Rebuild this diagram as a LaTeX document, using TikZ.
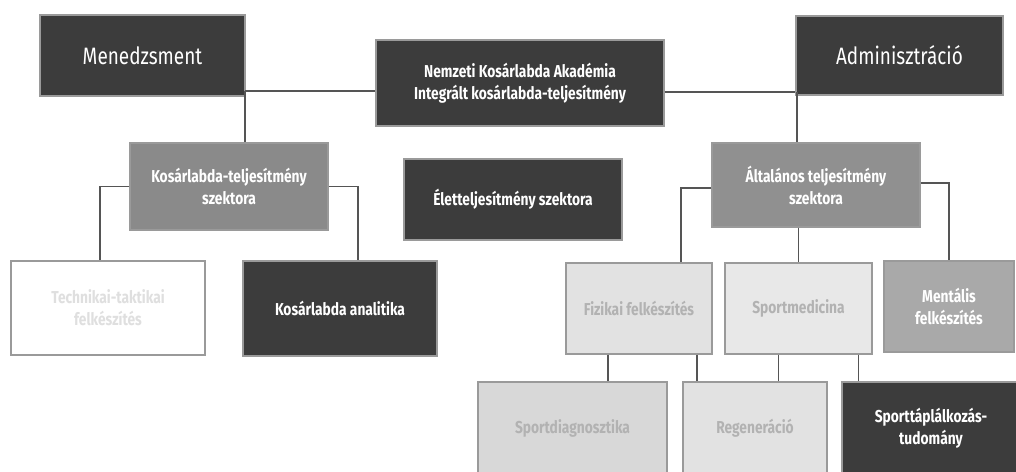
\documentclass[tikz,border=0pt]{standalone}
\usepackage{fontspec}
\setmainfont[FakeStretch=0.8]{Fira Sans}
\definecolor{sotet}{HTML}{3C3C3C}
\definecolor{kozep}{HTML}{8A8A8A}
\definecolor{halvany}{HTML}{A9A9A9}
\definecolor{vilagos}{HTML}{E2E2E2}
\definecolor{keret}{HTML}{9A9A9A}
\definecolor{vonal}{HTML}{555555}
\tikzset{
  doboz/.style={draw=keret, line width=0.6pt, inner sep=2pt, align=center,
    font=\fontsize{9.8}{12.5}\selectfont\bfseries},
  sotetdoboz/.style={doboz, fill=sotet, text=white},
  kozepdoboz/.style={doboz, fill=kozep, text=white},
  vilagosdoboz/.style={doboz, fill=vilagos, text=gray!60},
  kapcsolat/.style={draw=vonal, line width=0.8pt}
}
\begin{document}
\begin{tikzpicture}[x=0.02cm,y=-0.02cm]
\def\u{0.02cm}
\useasboundingbox (0,0) rectangle (1016,471);
% felso sor
\node[sotetdoboz, minimum width=205*\u, minimum height=81*\u, font=\fontsize{13.5}{15}\selectfont] (men) at (142.5,55.5) {Menedzsment};
\node[sotetdoboz, minimum width=288*\u, minimum height=86*\u] (nka) at (520,83) {Nemzeti Kosárlabda Akadémia\\Integrált kosárlabda-teljesítmény};
\node[sotetdoboz, minimum width=207*\u, minimum height=79*\u, font=\fontsize{13.5}{15}\selectfont] (adm) at (899.5,55.5) {Adminisztráció};

% szektorok
\node[kozepdoboz, minimum width=198*\u, minimum height=87*\u] (kosar) at (229,186.5) {Kosárlabda-teljesítmény\\szektora};
\node[sotetdoboz, minimum width=218*\u, minimum height=81*\u] (elet) at (513,199.5) {Életteljesítmény szektora};
\node[kozepdoboz, fill=kozep!95!white, minimum width=208*\u, minimum height=84*\u] (alt) at (816,185) {Általános teljesítmény\\szektora};

% harmadik sor
\node[vilagosdoboz, fill=white, text=gray!25, minimum width=194*\u, minimum height=94*\u] (tech) at (108,308) {Technikai-taktikai\\felkészítés};
\node[sotetdoboz, minimum width=194*\u, minimum height=95*\u] (ana) at (340,308.5) {Kosárlabda analitika};
\node[vilagosdoboz, minimum width=146*\u, minimum height=91*\u] (fiz) at (639,308.5) {Fizikai felkészítés};
\node[vilagosdoboz, fill=vilagos!80!white, minimum width=147*\u, minimum height=91*\u] (sport) at (798.5,308.5) {Sportmedicina};
\node[kozepdoboz, fill=halvany, minimum width=130*\u, minimum height=91*\u] (ment) at (949,306.5) {Mentális\\felkészítés};

% also sor
\node[vilagosdoboz, fill=vilagos!90!gray, minimum width=189*\u, minimum height=93*\u] (diag) at (572.5,428.5) {Sportdiagnosztika};
\node[vilagosdoboz, minimum width=144*\u, minimum height=93*\u] (regen) at (755,428.5) {Regeneráció};
\node[sotetdoboz, minimum width=178*\u, minimum height=93*\u] (tap) at (931,428.5) {Sporttáplálkozás-\\tudomány};

% kapcsolatok
\coordinate (bal) at (245,91);
\coordinate (jobb) at (797,92);
\draw[kapcsolat] (bal) -- (bal -| nka.west);
\draw[kapcsolat] (bal) -- (bal |- kosar.north);
\draw[kapcsolat] (jobb -| nka.east) -- (jobb -| adm.west);
\draw[kapcsolat] (jobb) -- (jobb |- alt.north);

\draw[kapcsolat] (kosar.west) -| ([xshift=-8*\u]tech.north);
\draw[kapcsolat] (kosar.east) -| ([xshift=18*\u]ana.north);

\draw[kapcsolat] ([yshift=-3*\u]alt.west) -| ([xshift=42*\u]fiz.north);
\draw[kapcsolat] (alt.south -| sport.north) -- (sport.north);
\draw[kapcsolat] ([yshift=2*\u]alt.east) -| (ment.north);

\draw[kapcsolat] ([xshift=-31*\u]fiz.south) -- ([xshift=-31*\u]fiz.south |- diag.north);
\draw[kapcsolat] ([xshift=58*\u]fiz.south) -- ([xshift=58*\u]fiz.south |- regen.north);
\draw[kapcsolat] ([xshift=-20*\u]sport.south) -- ([xshift=-20*\u]sport.south |- regen.north);
\draw[kapcsolat] ([xshift=60*\u]sport.south) -- ([xshift=60*\u]sport.south |- tap.north);
\end{tikzpicture}
\end{document}
